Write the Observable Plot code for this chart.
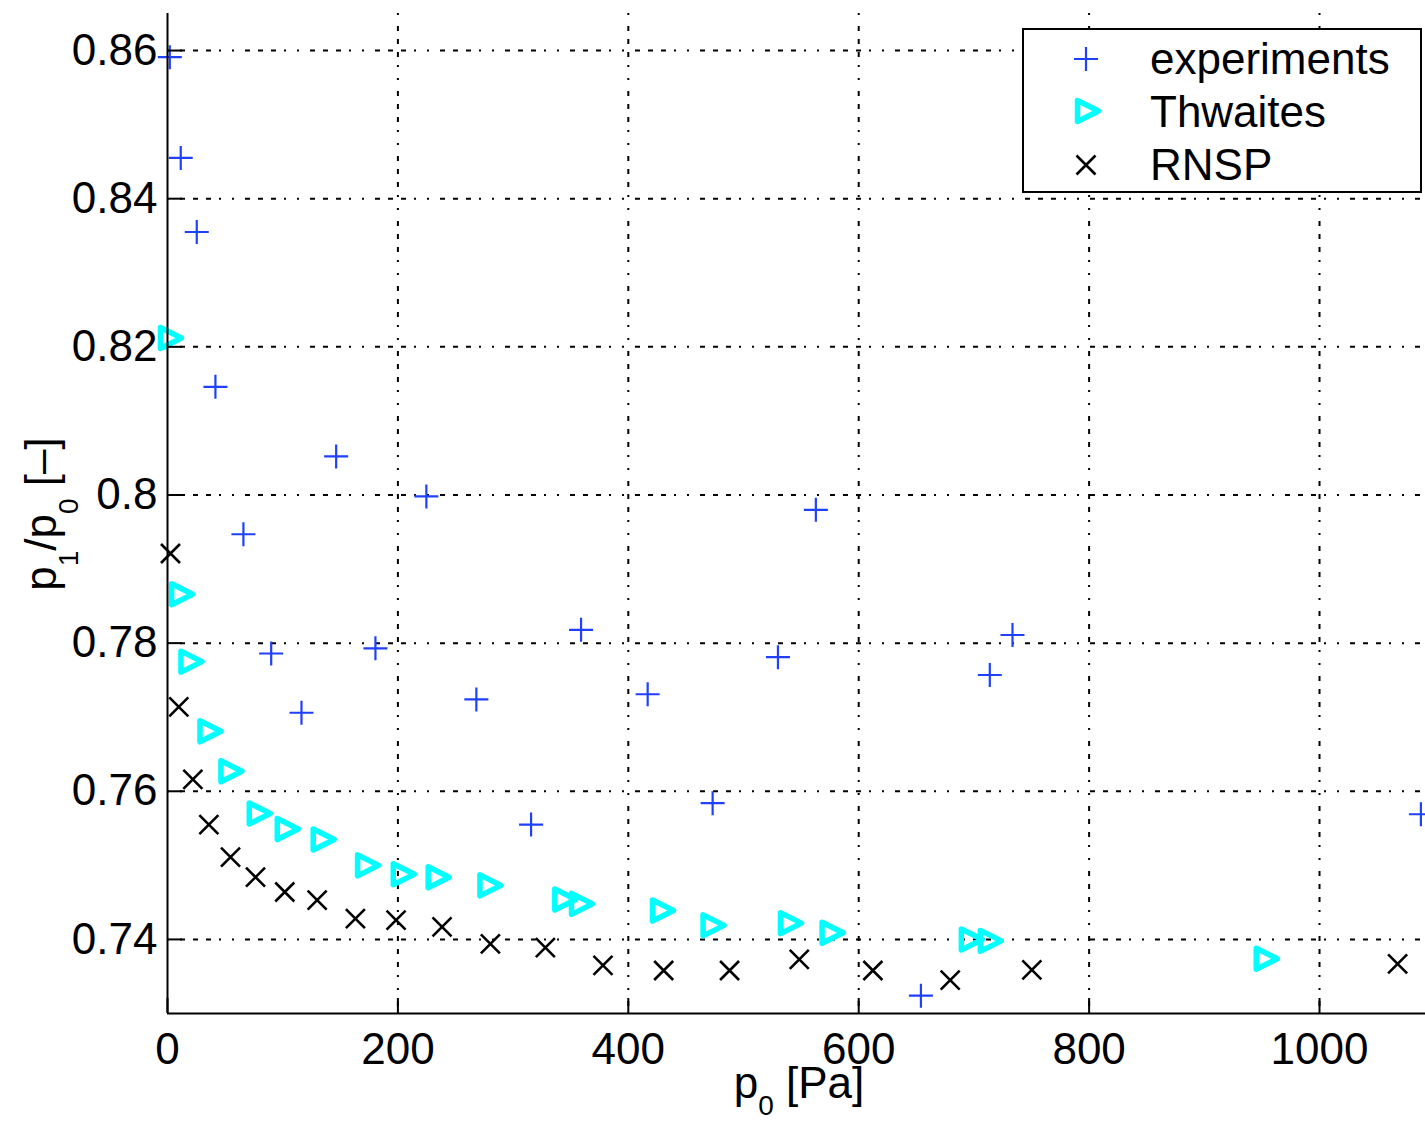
<!DOCTYPE html>
<html>
<head>
<meta charset="utf-8">
<script src="https://cdn.jsdelivr.net/npm/d3@7"></script>
<script src="https://cdn.jsdelivr.net/npm/@observablehq/plot@0.6"></script>
<style>
  html, body { margin: 0; padding: 0; background: #fff; }
  #chart svg { display: block; }
</style>
</head>
<body>
<div id="chart"></div>
<script>
// ---- data ----
const xTicks = [0, 200, 400, 600, 800, 1000];
const yTicks = [0.74, 0.76, 0.78, 0.80, 0.82, 0.84, 0.86];

const seriesNames = ["experiments", "Thwaites", "RNSP"];

const expX = [2, 11.5, 25.4, 41.6, 65.9, 90, 116.3, 146.4, 180.5, 224.7, 268.1, 315.6, 359, 416.8, 473.2, 529.9, 562.8, 654, 713.8, 733.5, 1088];
const expY = [0.8591, 0.8455, 0.8355, 0.8146, 0.7947, 0.7786, 0.7706, 0.8052, 0.7793, 0.7998, 0.7724, 0.7555, 0.7818, 0.7731, 0.7584, 0.7781, 0.7980, 0.7324, 0.7757, 0.7811, 0.7569];

const thwX = [3, 12.7, 20.8, 37.3, 55.5, 80.1, 104.4, 135.6, 174.1, 205.1, 235.4, 280.3, 345.3, 359.8, 430.1, 474, 541.2, 577.3, 698.2, 714.7, 954.2];
const thwY = [0.8212, 0.7866, 0.7775, 0.7681, 0.7627, 0.7570, 0.7549, 0.7535, 0.7500, 0.7488, 0.7484, 0.7473, 0.7454, 0.7448, 0.7439, 0.7419, 0.7422, 0.7409, 0.7400, 0.7398, 0.7374];

const rnspX = [2.6, 9.8, 22, 35.9, 54.7, 76.4, 101.8, 129.9, 163.1, 198.4, 238.3, 280.3, 328, 378, 430.7, 487.9, 548.4, 612.3, 679.4, 750.3, 1067.8];
const rnspY = [0.7921, 0.7714, 0.7616, 0.7555, 0.7511, 0.7484, 0.7464, 0.7453, 0.7428, 0.7426, 0.7417, 0.7394, 0.7389, 0.7365, 0.7358, 0.7358, 0.7373, 0.7358, 0.7345, 0.7359, 0.7367];

// ---- tables built from the arrays ----
const toRows = (xs, ys) => xs.map((x, i) => ({x, y: ys[i]}));
const expData = toRows(expX, expY);
const thwData = toRows(thwX, thwY);
const rnspData = toRows(rnspX, rnspY);

// ---- marker shapes (MATLAB-like) ----
const plusSym = {draw(c) { c.moveTo(-12, 0); c.lineTo(12, 0); c.moveTo(0, -12); c.lineTo(0, 12); }};
const timesSym = {draw(c) { c.moveTo(-9.5, -9.5); c.lineTo(9.5, 9.5); c.moveTo(-9.5, 9.5); c.lineTo(9.5, -9.5); }};
const triSym = {draw(c) { c.moveTo(-10.5, -10.5); c.lineTo(10.5, 0); c.lineTo(-10.5, 10.5); c.closePath(); }};

const BLUE = "#2040ff", CYAN = "#00ffff", BLACK = "#000000";
const FONT = "'Liberation Sans', Arial, Helvetica, sans-serif";
const gridDash = "2,11,5,8,5,8,5,8,2,11";

const chart = Plot.plot({
  width: 1425,
  height: 1121,
  marginLeft: 167,
  marginRight: 0,
  marginTop: 13,
  marginBottom: 108,
  style: {fontFamily: FONT, fontSize: "44px", color: "#000", background: "#fff"},
  x: {domain: [0, 1092]},
  y: {domain: [0.73, 0.865]},
  marks: [
    Plot.gridX(xTicks.filter(d => d > 0), {stroke: BLACK, strokeOpacity: 1, strokeWidth: 2, strokeDasharray: gridDash}),
    Plot.gridY(yTicks, {stroke: BLACK, strokeOpacity: 1, strokeWidth: 2, strokeDasharray: gridDash}),
    Plot.dot(expData, {x: "x", y: "y", symbol: plusSym, fill: "none", stroke: BLUE, strokeWidth: 2.2}),
    Plot.dot(thwData, {x: "x", y: "y", symbol: triSym, fill: "none", stroke: CYAN, strokeWidth: 5.5, strokeLinejoin: "round"}),
    Plot.dot(rnspData, {x: "x", y: "y", symbol: timesSym, fill: "none", stroke: BLACK, strokeWidth: 2.6}),
    Plot.ruleX([0], {stroke: BLACK, strokeWidth: 2}),
    Plot.ruleY([0.73], {stroke: BLACK, strokeWidth: 2}),
    Plot.axisX({ticks: xTicks, tickSize: -15, tickPadding: 34, strokeWidth: 2, tickFormat: d => String(d), label: null, fontSize: 44}),
    Plot.axisY({ticks: yTicks, tickSize: -15, tickPadding: 25, strokeWidth: 2, tickFormat: d => String(d), label: null, fontSize: 44})
  ]
});

document.getElementById("chart").appendChild(chart);

// ---- axis labels with subscripts ----
const svg = d3.select(chart);
const xl = svg.append("text")
  .attr("x", 799).attr("y", 1098)
  .attr("text-anchor", "middle")
  .style("font-family", FONT).style("font-size", "44px").attr("fill", "#000");
xl.append("tspan").text("p");
xl.append("tspan").attr("dy", 17).style("font-size", "28px").text("0");
xl.append("tspan").attr("dy", -17).text(" [Pa]");

const yl = svg.append("text")
  .attr("transform", "translate(56,514) rotate(-90)")
  .attr("text-anchor", "middle")
  .style("font-family", FONT).style("font-size", "44px").attr("fill", "#000");
yl.append("tspan").text("p");
yl.append("tspan").attr("dy", 22).style("font-size", "28px").text("1");
yl.append("tspan").attr("dy", -22).text("/p");
yl.append("tspan").attr("dy", 22).style("font-size", "28px").text("0");
yl.append("tspan").attr("dy", -22).text(" [–]");

// ---- legend ----
const symPath = s => { const p = d3.path(); s.draw(p); return p.toString(); };
const lg = svg.append("g");
lg.append("rect").attr("x", 1023).attr("y", 29).attr("width", 398).attr("height", 163)
  .attr("fill", "#fff").attr("stroke", "#000").attr("stroke-width", 2);
const legendItems = [
  {name: seriesNames[0], sym: plusSym, stroke: BLUE, sw: 2.2, mx: 1086, my: 59, ty: 74},
  {name: seriesNames[1], sym: triSym, stroke: CYAN, sw: 5.5, mx: 1088, my: 111, ty: 127},
  {name: seriesNames[2], sym: timesSym, stroke: BLACK, sw: 2.6, mx: 1086, my: 165, ty: 180}
];
for (const it of legendItems) {
  lg.append("path").attr("d", symPath(it.sym))
    .attr("transform", `translate(${it.mx},${it.my})`)
    .attr("fill", "none").attr("stroke", it.stroke).attr("stroke-width", it.sw)
    .attr("stroke-linejoin", "round");
  lg.append("text").attr("x", 1150).attr("y", it.ty)
    .attr("text-anchor", "start")
    .style("font-family", FONT).style("font-size", "44px").attr("fill", "#000")
    .text(it.name);
}
</script>
</body>
</html>
